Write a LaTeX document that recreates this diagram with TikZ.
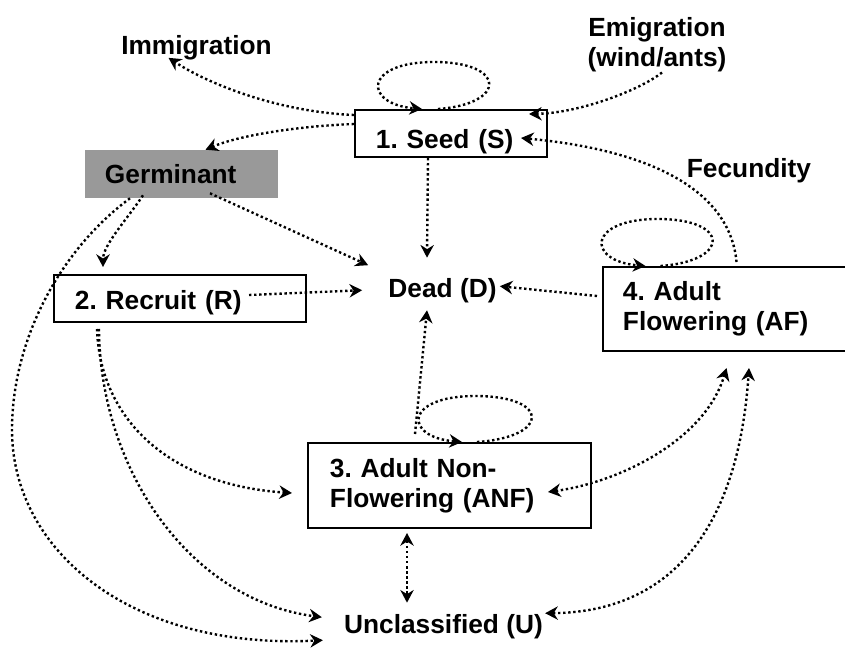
\documentclass[tikz,border=0pt]{standalone}
\usepackage{fontspec}
\setmainfont{Liberation Sans}
\frenchspacing
\usetikzlibrary{arrows.meta}

\begin{document}
\begin{tikzpicture}[x=0.025cm, y=-0.025cm,
    font=\fontsize{18.7}{21.3}\selectfont\bfseries,
    stage/.style={draw, line width=1.4pt, inner ysep=0pt, align=left},
    txt/.style={inner sep=0pt, anchor=base},
    link/.style={line width=1.7pt, dash pattern=on 1.7pt off 1.9pt, -{Stealth[length=9pt, width=9.5pt]}},
    linkboth/.style={link, {Stealth[length=9pt, width=9.5pt]}-{Stealth[length=9pt, width=9.5pt]}}]
    \useasboundingbox (0,0) rectangle (845,650);

    \node[stage, inner xsep=0.525cm, text width=3.75cm, minimum height=1.175cm, text height=0.85cm, text depth=0.125cm] (seed) at (451,133.5) {1. Seed (S)};
    \node[fill=gray!80, inner ysep=0pt, inner xsep=0.5cm, text width=3.825cm, minimum height=1.2cm, text height=0.575cm, text depth=0.125cm] (germ) at (181.5,174) {Germinant};
    \node[stage, inner xsep=0.525cm, text width=5.25cm, minimum height=1.175cm, text height=0.65cm, text depth=0.125cm] (recruit) at (180,298.5) {2. Recruit (R)};
    \node[stage, inner xsep=0.5cm, text width=5.175cm, minimum height=2.1cm] (af) at (726.5,309) {4. Adult\\Flowering (AF)};
    \node[stage, inner xsep=0.55cm, text width=5.975cm, minimum height=2.125cm] (anf) at (449.5,485.5) {3. Adult Non-\\Flowering (ANF)};

    \node[txt] (immig) at (196.5,55) {Immigration};
    \node[align=center, inner sep=0pt] (emig) at (657,45) {Emigration\\(wind/ants)};
    \node[txt] (fecund) at (749,177) {Fecundity};
    \node[txt] (dead) at (442.5,297) {Dead (D)};
    \node[txt] (uncl) at (443.5,633) {Unclassified (U)};

    \draw[link, shift={(seed.north)}] (-13,0) .. controls (56,-5) and (56,-47) .. (-17,-47) .. controls (-88,-47) and (-88,-5) .. (-29,0);
    \draw[link, shift={(af.north)}] (-66,0) .. controls (4,-5) and (4,-47) .. (-68.5,-47) .. controls (-140,-47) and (-140,-5) .. (-81,0);
    \draw[link, shift={(anf.north)}] (27.5,0) .. controls (101,-5) and (101,-46) .. (26,-46) .. controls (-46,-46) and (-46,-5) .. (12.5,0);

    \draw[link] ([shift={(0,-18.5)}]seed.west) .. controls (280,112) and (210,85) .. ([shift={(-28,-3)}]immig.south);
    \draw[link] ([shift={(0,-9.5)}]seed.west) .. controls (300,126) and (240,135) .. ([shift={(24,0)}]germ.north);
    \draw[link] ([shift={(5,0)}]emig.south) .. controls (640,90) and (580,113) .. ([shift={(-19,5)}]seed.north east);
    \draw[link] ([shift={(10,-4)}]af.north) .. controls (730,190) and (650,150) .. ([shift={(-27,4.5)}]seed.east);
    \draw[link] ([shift={(-23,0)}]seed.south) -- ([shift={(-15.5,-20)}]dead.north);
    \draw[link] ([shift={(-38.5,-3)}]germ.south) .. controls (128,218) and (103,245) .. ([shift={(-77,-7)}]recruit.north);
    \draw[link] ([shift={(28.5,-5)}]germ.south) -- ([shift={(-20,-25)}]dead.west);
    \draw[link] ([shift={(-51.5,0)}]germ.south) .. controls (60,250) and (12,340) .. (12,430) .. controls (12,550) and (130,650) .. ([shift={(-21,14)}]uncl.west);
    \draw[link] ([shift={(-58,-3.5)}]recruit.east) -- ([shift={(-26,0)}]dead.west);
    \draw[link] ([shift={(-83,6)}]recruit.south) .. controls (100,420) and (170,485) .. ([shift={(-15,7.5)}]anf.west);
    \draw[link] ([shift={(-81,6)}]recruit.south) .. controls (100,470) and (190,600) .. ([shift={(-22,-9)}]uncl.west);
    \draw[link] ([shift={(-34.5,-8)}]anf.north) -- ([shift={(-15.5,7.5)}]dead.south);
    \draw[link] ([shift={(-5,-13)}]af.west) -- ([shift={(3,-4)}]dead.east);
    \draw[linkboth] ([shift={(-42.5,4)}]anf.south) -- ([shift={(-36.5,-11)}]uncl.north);
    \draw[linkboth] ([shift={(-44,6.5)}]anf.east) .. controls (620,482) and (705,440) .. ([shift={(0,16)}]af.south);
    \draw[linkboth] ([shift={(2,-13)}]uncl.east) .. controls (670,612) and (738,530) .. ([shift={(22.5,16)}]af.south);
\end{tikzpicture}
\end{document}
